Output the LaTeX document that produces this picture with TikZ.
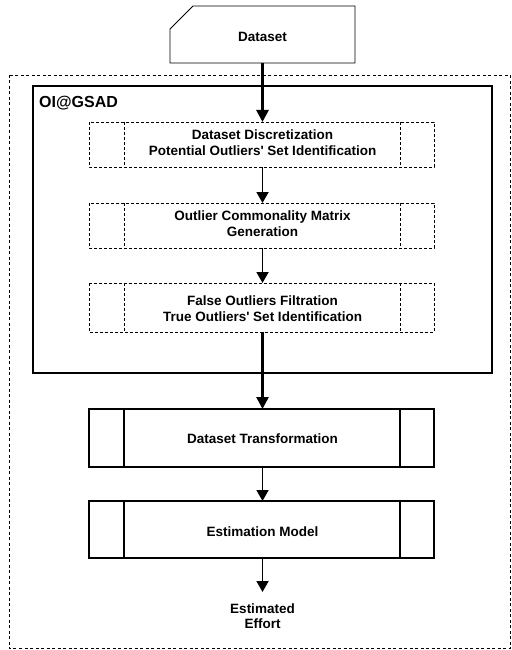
\documentclass[tikz,border=0pt]{standalone}
\usepackage{fontspec}
\setmainfont{Liberation Sans}[Ligatures=TeXOff]
\usetikzlibrary{arrows.meta}
\begin{document}
\begin{tikzpicture}[x=1pt,y=-1pt,
  lbl/.style={font=\bfseries\fontsize{13.5}{15}\selectfont, anchor=base, inner sep=0},
  dbox/.style={draw, line width=0.8pt, dash pattern=on 3pt off 2pt},
  sbox/.style={draw, line width=1.7pt},
  bigarrow/.style={line width=2.6pt, -{Triangle[length=12pt,width=12pt]}},
  smallarrow/.style={line width=1.8pt, -{Triangle[length=11pt,width=12pt]}}]
\useasboundingbox (0,0) rectangle (511,650);
% outer dashed frame
\draw[line width=0.7pt, dash pattern=on 3pt off 2.5pt] (9.5,75) rectangle (510,648.5);
% OI@GSAD frame
\draw[line width=1.8pt] (33,86) rectangle (492,373);
\node[font=\bfseries\fontsize{16}{18}\selectfont, anchor=base west, inner sep=0] (oi) at (39,107.5) {OI@GSAD};
% Dataset (card shape)
\draw[line width=0.9pt] (193,6) -- (355,6) -- (355,63) -- (170,63) -- (170,29) -- cycle;
\node[lbl] (ds) at (262.5,41.5) {Dataset};
\coordinate (dsb) at (262.5,63);
% Inner dashed boxes
\foreach \n/\t/\b in {b1/122/167, b2/203/248, b3/283/332}{
  \draw[dbox] (89,\t) rectangle (434,\b);
  \draw[dbox] (124,\t) -- (124,\b);
  \draw[dbox] (400,\t) -- (400,\b);
  \coordinate (\n t) at (262.5,\t);
  \coordinate (\n b) at (262.5,\b);
}
\node[lbl] (t1a) at (262.5,139.8) {Dataset Discretization};
\node[lbl] (t1b) at (262.5,155.3) {Potential Outliers' Set Identification};
\node[lbl] (t2a) at (262.5,220.8) {Outlier Commonality Matrix};
\node[lbl] (t2b) at (262.5,236.3) {Generation};
\node[lbl] (t3a) at (262.5,305.8) {False Outliers Filtration};
\node[lbl] (t3b) at (262.5,321.3) {True Outliers' Set Identification};
% Solid boxes
\foreach \n/\t/\b in {c1/409/467, c2/501/558}{
  \draw[sbox] (89,\t) rectangle (434,\b);
  \draw[sbox] (124,\t) -- (124,\b);
  \draw[sbox] (400,\t) -- (400,\b);
  \coordinate (\n t) at (262.5,\t);
  \coordinate (\n b) at (262.5,\b);
}
\node[lbl] (tt) at (262.5,443.1) {Dataset Transformation};
\node[lbl] (em) at (262.5,536.5) {Estimation Model};
\node[lbl] (efa) at (262.5,613.1) {Estimated};
\node[lbl] (efb) at (262.5,628.1) {Effort};
% arrows
\draw[bigarrow] (dsb) -- (b1t);
\draw[smallarrow] (b1b) -- (b2t);
\draw[smallarrow] (b2b) -- (b3t);
\draw[bigarrow] (b3b) -- (c1t);
\draw[smallarrow] (c1b) -- (c2t);
\draw[smallarrow] (c2b) -- (262.5,592);
\end{tikzpicture}
\end{document}
